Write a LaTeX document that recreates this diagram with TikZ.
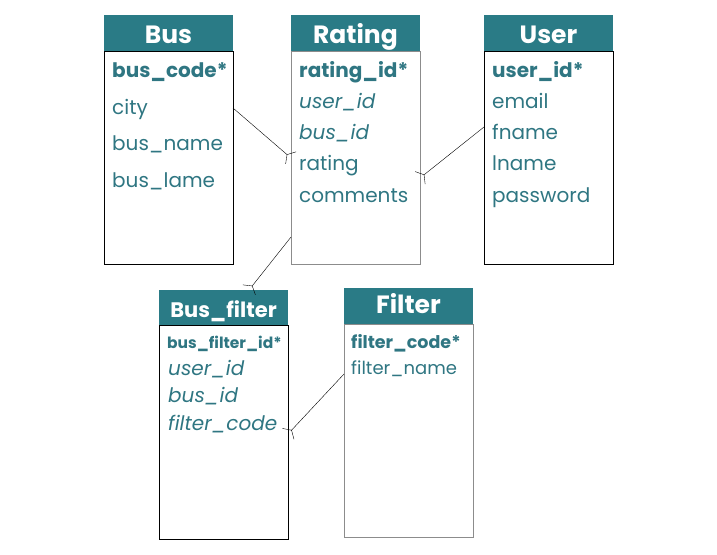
\documentclass[tikz,border=0pt]{standalone}
\usepackage{fontspec}
\setmainfont{Poppins}
\usetikzlibrary{arrows.meta,positioning}
\definecolor{head}{HTML}{2A7B86}
\definecolor{field}{HTML}{2F7682}
\definecolor{edge}{HTML}{8C8C8C}
\newcommand{\fs}[1]{\fontsize{#1}{#1}\selectfont}

\begin{document}
\begin{tikzpicture}[x=1pt,y=-1pt,
  hdr/.style={fill=head,text=white,font=\bfseries\fs{25},minimum width=129pt,
    minimum height=36pt,inner sep=0pt,text height=20pt,text depth=0pt,anchor=north},
  tbl/.style={draw,minimum width=129pt,inner sep=0pt},
  fld/.style={text=field,anchor=base west,inner sep=0pt,font=\fs{20}},
  key/.style={fld,font=\bfseries\fs{20}},
  fk/.style={fld,font=\itshape\fs{20}},
  crow/.style={-{Straight Barb[reversed,length=5pt,width=16pt]},thin}]
  \useasboundingbox (0,0) rectangle (717,554);
  % tables
  \node[hdr] (bus) at (168.5,15) {Bus};
  \node[tbl,minimum height=213pt,below=0pt of bus] (busbody) {};
  \node[hdr] (rating) at (355.5,15) {Rating};
  \node[tbl,draw=edge,minimum height=213pt,below=0pt of rating] (ratingbody) {};
  \node[hdr] (user) at (548.5,15) {User};
  \node[tbl,minimum height=213pt,below=0pt of user] (userbody) {};
  \node[hdr,font=\bfseries\fs{21},minimum height=35pt,text height=19pt] (busfilter) at (223.5,290) {Bus\_filter};
  \node[tbl,minimum height=214pt,below=0pt of busfilter] (busfilterbody) {};
  \node[hdr,text height=15pt] (filter) at (408.5,288) {Filter};
  \node[tbl,draw=edge,minimum height=213pt,below=0pt of filter] (filterbody) {};
  % fields
  \node[key] (buscode) at (112,77) {bus\_code*};
  \node[fld] (city) at (112,114) {city};
  \node[fld] (busname) at (112,150) {bus\_name};
  \node[fld] (buslame) at (112,187) {bus\_lame};
  \node[key] (ratingid) at (299,77) {rating\_id*};
  \node[fk] (ruserid) at (299,108) {user\_id};
  \node[fk] (rbusid) at (299,139) {bus\_id};
  \node[fld] (rrating) at (299,170) {rating};
  \node[fld] (comments) at (299,202) {comments};
  \node[key] (userid) at (492,77) {user\_id*};
  \node[fld] (email) at (492,108) {email};
  \node[fld] (fname) at (492,139) {fname};
  \node[fld] (lname) at (492,170) {lname};
  \node[fld] (password) at (492,202) {password};
  \node[key,font=\bfseries\fs{15.5}] (busfilterid) at (167,348) {bus\_filter\_id*};
  \node[fk] (fuserid) at (168,375) {user\_id};
  \node[fk] (fbusid) at (168,402) {bus\_id};
  \node[fk] (ffiltercode) at (168,430) {filter\_code};
  \node[key,font=\bfseries\fs{17.5}] (filtercode) at (351,348) {filter\_code*};
  \node[fld,font=\fs{18}] (filtername) at (351,374) {filter\_name};
  % relations
  \coordinate (bus-r) at (233,108);
  \coordinate (rating-l) at (291,158);
  \coordinate (user-l) at (484,127);
  \coordinate (rating-r) at (420,178);
  \coordinate (rating-b) at (291,237);
  \coordinate (busfilter-t) at (249,290);
  \coordinate (filter-l) at (344,374);
  \coordinate (busfilter-r) at (288,434);
  \draw[crow] (bus-r) -- (rating-l);
  \draw[crow] (user-l) -- (rating-r);
  \draw[crow] (rating-b) -- (busfilter-t);
  \draw[crow] (filter-l) -- (busfilter-r);
\end{tikzpicture}
\end{document}
